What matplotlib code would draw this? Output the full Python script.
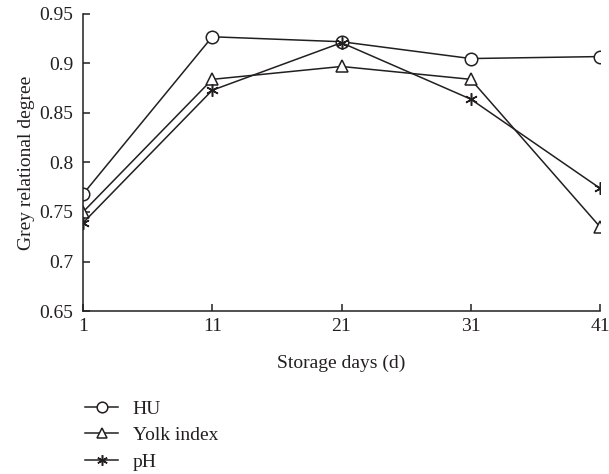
import matplotlib
matplotlib.use("Agg")
import matplotlib.pyplot as plt

days = [1, 11, 21, 31, 41]
hu = [0.768, 0.927, 0.922, 0.905, 0.907]
yolk = [0.750, 0.884, 0.897, 0.884, 0.735]
ph = [0.739, 0.873, 0.921, 0.864, 0.774]
yticks = [0.65, 0.7, 0.75, 0.8, 0.85, 0.9, 0.95]
ytick_labels = ["0.65", "0.7", "0.75", "0.8", "0.85", "0.9", "0.95"]

plt.rcParams['font.family'] = ['Liberation Serif', 'DejaVu Serif']
col = '#231f20'

fig = plt.figure(figsize=(6.09, 4.74), dpi=100)
ax = fig.add_axes([83/609, 1-311/474, (600-83)/609, (311-14)/474])

ms = 9
ax.plot(days, hu, color=col, lw=1.1, marker='o', mfc='white', mec=col, ms=ms, mew=1.1, label='HU')
ax.plot(days, yolk, color=col, lw=1.1, marker='^', mfc='white', mec=col, ms=ms, mew=1.1, label='Yolk index')
ax.plot(days, ph, color=col, lw=1.1, marker=(6, 2, 0), mfc='white', mec=col, ms=ms, mew=1.1, label='pH')

ax.set_xlim(1, 41)
ax.set_ylim(0.65, 0.95)
ax.set_xticks(days)
ax.set_xticklabels([str(d) for d in days])
ax.set_yticks(yticks)
ax.set_yticklabels(ytick_labels)
for s in ['top', 'right']:
    ax.spines[s].set_visible(False)
for s in ['left', 'bottom']:
    ax.spines[s].set_color(col)
    ax.spines[s].set_linewidth(1.1)
ax.tick_params(direction='in', length=5, width=1.1, color=col, labelsize=14, labelcolor=col)
ax.tick_params(axis='y', pad=7)
ax.tick_params(axis='x', pad=5)
for lab in ax.get_xticklabels() + ax.get_yticklabels():
    lab.set_clip_on(False)
ax.set_xlabel('Storage days (d)', fontsize=14, color=col, labelpad=14)
ax.set_ylabel('Grey relational degree', fontsize=14, color=col, labelpad=3)

fig.legend(loc='upper left', bbox_to_anchor=(85/609, 1-400/474), frameon=False,
           fontsize=14, handlelength=1.7, handletextpad=0.75, labelspacing=0.46,
           borderpad=0, borderaxespad=0, markerscale=0.85, labelcolor=col)

fig.savefig('out.png', dpi=100)
